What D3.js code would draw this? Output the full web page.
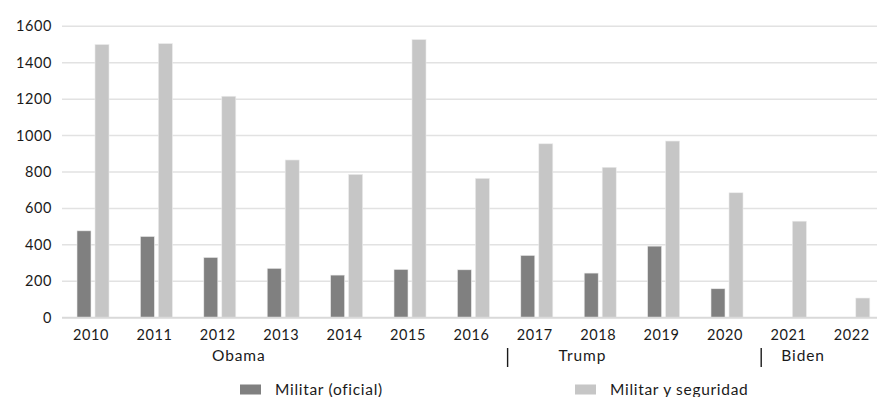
<!DOCTYPE html>
<html>
<head>
<meta charset="utf-8">
<script src="https://cdn.jsdelivr.net/npm/d3@7"></script>
<style>
  body { margin: 0; background: #fff; }
  text { font-family: Lato, "Open Sans", sans-serif; fill: #1a1a1a; }
</style>
</head>
<body>
<div id="chart"></div>
<script>
// data
var years = ["2010", "2011", "2012", "2013", "2014", "2015", "2016", "2017", "2018", "2019", "2020", "2021", "2022"];
var militarOficial = [477, 446, 331, 271, 234, 265, 263, 342, 245, 393, 159, 2, 2];
var militarSeguridad = [1500, 1505, 1216, 866, 787, 1527, 765, 955, 826, 970, 686, 530, 108];
var seriesNames = ["Militar (oficial)", "Militar y seguridad"];
var seriesColors = ["#808080", "#c6c6c6"];
var yTicks = [0, 200, 400, 600, 800, 1000, 1200, 1400, 1600];
// presidents: label, year it sits next to, offset in steps, divider before it
var presidents = [
  { name: "Obama", year: "2012", offset: 0.3, divider: null },
  { name: "Trump", year: "2017", offset: 0.72, divider: "2017" },
  { name: "Biden", year: "2021", offset: 0.2, divider: "2021" }
];

var width = 877, height = 397;

var svg = d3.select("#chart").append("svg")
    .attr("width", width)
    .attr("height", height);

var x0 = d3.scaleBand()
    .domain(years)
    .range([61.3, 885.5])
    .padding(0);

var x1 = d3.scaleBand()
    .domain(seriesNames)
    .range([-16, 16])
    .paddingInner(4 / 18);

var y = d3.scaleLinear()
    .domain([0, 1600])
    .range([317.7, 26.3]);

// gridlines
svg.append("g").selectAll("line")
    .data(yTicks.filter(function(d) { return d > 0; }))
    .enter().append("line")
    .attr("x1", 62).attr("x2", width)
    .attr("y1", function(d) { return y(d); })
    .attr("y2", function(d) { return y(d); })
    .attr("stroke", "#e2e2e2")
    .attr("stroke-width", 1.5);

// y labels
svg.append("g").selectAll("text")
    .data(yTicks)
    .enter().append("text")
    .attr("x", 52)
    .attr("y", function(d) { return y(d) + 5; })
    .attr("text-anchor", "end")
    .style("font-size", "14.5px")
    .style("letter-spacing", "0.6px")
    .text(function(d) { return d; });

// bars
var rows = years.map(function(yr, i) {
    return { year: yr, values: [militarOficial[i], militarSeguridad[i]] };
});

var groups = svg.append("g").selectAll("g")
    .data(rows)
    .enter().append("g")
    .attr("transform", function(d) { return "translate(" + (x0(d.year) + x0.bandwidth() / 2) + ",0)"; });

groups.selectAll("rect")
    .data(function(d) { return d.values.map(function(v, k) { return { name: seriesNames[k], value: v, k: k }; }); })
    .enter().append("rect")
    .attr("x", function(d) { return x1(d.name); })
    .attr("width", x1.bandwidth())
    .attr("y", function(d) { return y(d.value); })
    .attr("height", function(d) { return y(0) - y(d.value); })
    .attr("fill", function(d) { return seriesColors[d.k]; })
    .attr("stroke", "#ececec")
    .attr("stroke-width", 0.6);

// baseline
svg.append("line")
    .attr("x1", 62).attr("x2", width)
    .attr("y1", y(0)).attr("y2", y(0))
    .attr("stroke", "#d9d9d9")
    .attr("stroke-width", 2);

// year labels
svg.append("g").selectAll("text")
    .data(years)
    .enter().append("text")
    .attr("x", function(d) { return x0(d) + x0.bandwidth() / 2 - 2; })
    .attr("y", 340)
    .attr("text-anchor", "middle")
    .style("font-size", "14.5px")
    .style("letter-spacing", "0.6px")
    .text(function(d) { return d; });

// president labels and dividers
svg.append("g").selectAll("text")
    .data(presidents)
    .enter().append("text")
    .attr("x", function(d) { return x0(d.year) + x0.bandwidth() / 2 + d.offset * x0.step(); })
    .attr("y", 360.5)
    .attr("text-anchor", "middle")
    .style("font-size", "15.5px")
    .style("letter-spacing", "0.9px")
    .text(function(d) { return d.name; });

svg.append("g").selectAll("line")
    .data(presidents.filter(function(d) { return d.divider; }))
    .enter().append("line")
    .attr("x1", function(d) { return x0(d.divider) + 2.5; })
    .attr("x2", function(d) { return x0(d.divider) + 2.5; })
    .attr("y1", 348).attr("y2", 367)
    .attr("stroke", "#1a1a1a")
    .attr("stroke-width", 1.4);

// legend
var legendX = [240, 575];
var legend = svg.append("g").selectAll("g")
    .data(seriesNames)
    .enter().append("g")
    .attr("transform", function(d, i) { return "translate(" + legendX[i] + ",384.5)"; });

legend.append("rect")
    .attr("width", 21).attr("height", 10)
    .attr("fill", function(d, i) { return seriesColors[i]; });

legend.append("text")
    .attr("x", 35)
    .attr("y", 10.5)
    .style("font-size", "15.5px")
    .style("letter-spacing", "0.7px")
    .text(function(d) { return d; });
</script>
</body>
</html>
